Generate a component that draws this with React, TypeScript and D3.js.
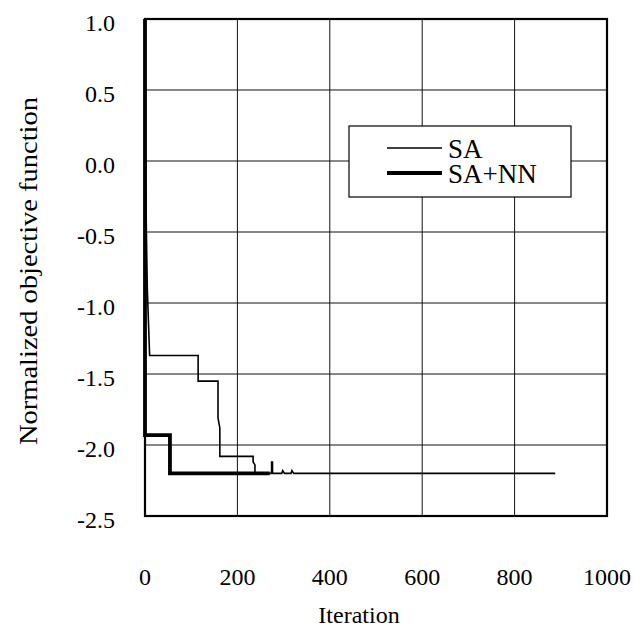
import { useEffect, useRef } from "react";
import * as d3 from "d3";

const saIter = [0, 1, 3, 5, 10, 115, 115, 158, 158, 162, 162, 234, 234, 238, 238, 274, 274, 276, 276, 296, 298, 302, 316, 318, 322, 888];
const saValue = [1.0, 0.0, -0.5, -0.9, -1.37, -1.37, -1.55, -1.55, -1.81, -1.88, -2.08, -2.08, -2.12, -2.14, -2.2, -2.2, -2.12, -2.12, -2.2, -2.2, -2.18, -2.2, -2.2, -2.18, -2.2, -2.2];
const nnIter = [0, 0, 54, 54, 270];
const nnValue = [1.0, -1.93, -1.93, -2.2, -2.2];

const xTicks = [0, 200, 400, 600, 800, 1000];
const yTicks = [1.0, 0.5, 0.0, -0.5, -1.0, -1.5, -2.0, -2.5];

const width = 634;
const height = 630;
const font = "'Liberation Serif', 'Times New Roman', serif";

const App = () => {
  const svgRef = useRef<SVGSVGElement>(null);

  useEffect(() => {
    document.body.style.margin = "0";
    const svg = d3.select(svgRef.current);
    svg.selectAll("*").remove();

    const x = d3.scaleLinear().domain([0, 1000]).range([145, 607]);
    const y = d3.scaleLinear().domain([-2.5, 1.0]).range([516, 19]);

    // grid
    svg
      .append("g")
      .selectAll("line")
      .data(xTicks.slice(1, -1))
      .join("line")
      .attr("x1", (d) => x(d))
      .attr("x2", (d) => x(d))
      .attr("y1", y(1.0))
      .attr("y2", y(-2.5))
      .attr("stroke", "#111")
      .attr("stroke-width", 1);

    svg
      .append("g")
      .selectAll("line")
      .data(yTicks.slice(1, -1))
      .join("line")
      .attr("x1", x(0))
      .attr("x2", x(1000))
      .attr("y1", (d) => y(d))
      .attr("y2", (d) => y(d))
      .attr("stroke", "#111")
      .attr("stroke-width", 1);

    // tick labels
    svg
      .append("g")
      .selectAll("text")
      .data(yTicks)
      .join("text")
      .attr("x", 115)
      .attr("y", (d) => y(d) + 12)
      .attr("text-anchor", "end")
      .attr("font-family", font)
      .attr("font-size", 24)
      .text((d) => d3.format(".1f")(d).replace("−", "-"));

    svg
      .append("g")
      .selectAll("text")
      .data(xTicks)
      .join("text")
      .attr("x", (d) => x(d))
      .attr("y", 585)
      .attr("text-anchor", "middle")
      .attr("font-family", font)
      .attr("font-size", 24)
      .text((d) => d);

    const sa = saIter.map((it, i) => [x(it), y(saValue[i])] as [number, number]);
    const nn = nnIter.map((it, i) => [x(it), y(nnValue[i])] as [number, number]);
    const path = d3.line();

    svg
      .append("path")
      .attr("d", path(sa))
      .attr("fill", "none")
      .attr("stroke", "#000")
      .attr("stroke-width", 1.6);

    svg
      .append("path")
      .attr("d", path(nn))
      .attr("fill", "none")
      .attr("stroke", "#000")
      .attr("stroke-width", 3.8);

    // frame
    svg
      .append("rect")
      .attr("x", x(0))
      .attr("y", y(1.0))
      .attr("width", x(1000) - x(0))
      .attr("height", y(-2.5) - y(1.0))
      .attr("fill", "none")
      .attr("stroke", "#000")
      .attr("stroke-width", 2.2);

    // legend
    const lg = svg.append("g");
    lg.append("rect")
      .attr("x", 349)
      .attr("y", 126)
      .attr("width", 222)
      .attr("height", 71)
      .attr("fill", "#fff")
      .attr("stroke", "#000")
      .attr("stroke-width", 1.2);
    const items = [
      { label: "SA", w: 1.6, yy: 148 },
      { label: "SA+NN", w: 3.8, yy: 173 },
    ];
    items.forEach((it) => {
      lg.append("line")
        .attr("x1", 387)
        .attr("x2", 442)
        .attr("y1", it.yy)
        .attr("y2", it.yy)
        .attr("stroke", "#000")
        .attr("stroke-width", it.w);
      lg.append("text")
        .attr("x", 448)
        .attr("y", it.yy + 10)
        .attr("font-family", font)
        .attr("font-size", 27)
        .text(it.label);
    });

    // axis titles
    svg
      .append("text")
      .attr("x", 359)
      .attr("y", 623)
      .attr("text-anchor", "middle")
      .attr("font-family", font)
      .attr("font-size", 24)
      .text("Iteration");

    svg
      .append("text")
      .attr("transform", "translate(37, 271) rotate(-90)")
      .attr("text-anchor", "middle")
      .attr("font-family", font)
      .attr("font-size", 25)
      .attr("textLength", 348)
      .attr("lengthAdjust", "spacingAndGlyphs")
      .text("Normalized objective function");
  }, []);

  return <svg ref={svgRef} width={width} height={height} style={{ display: "block" }} />;
};

export default App;
